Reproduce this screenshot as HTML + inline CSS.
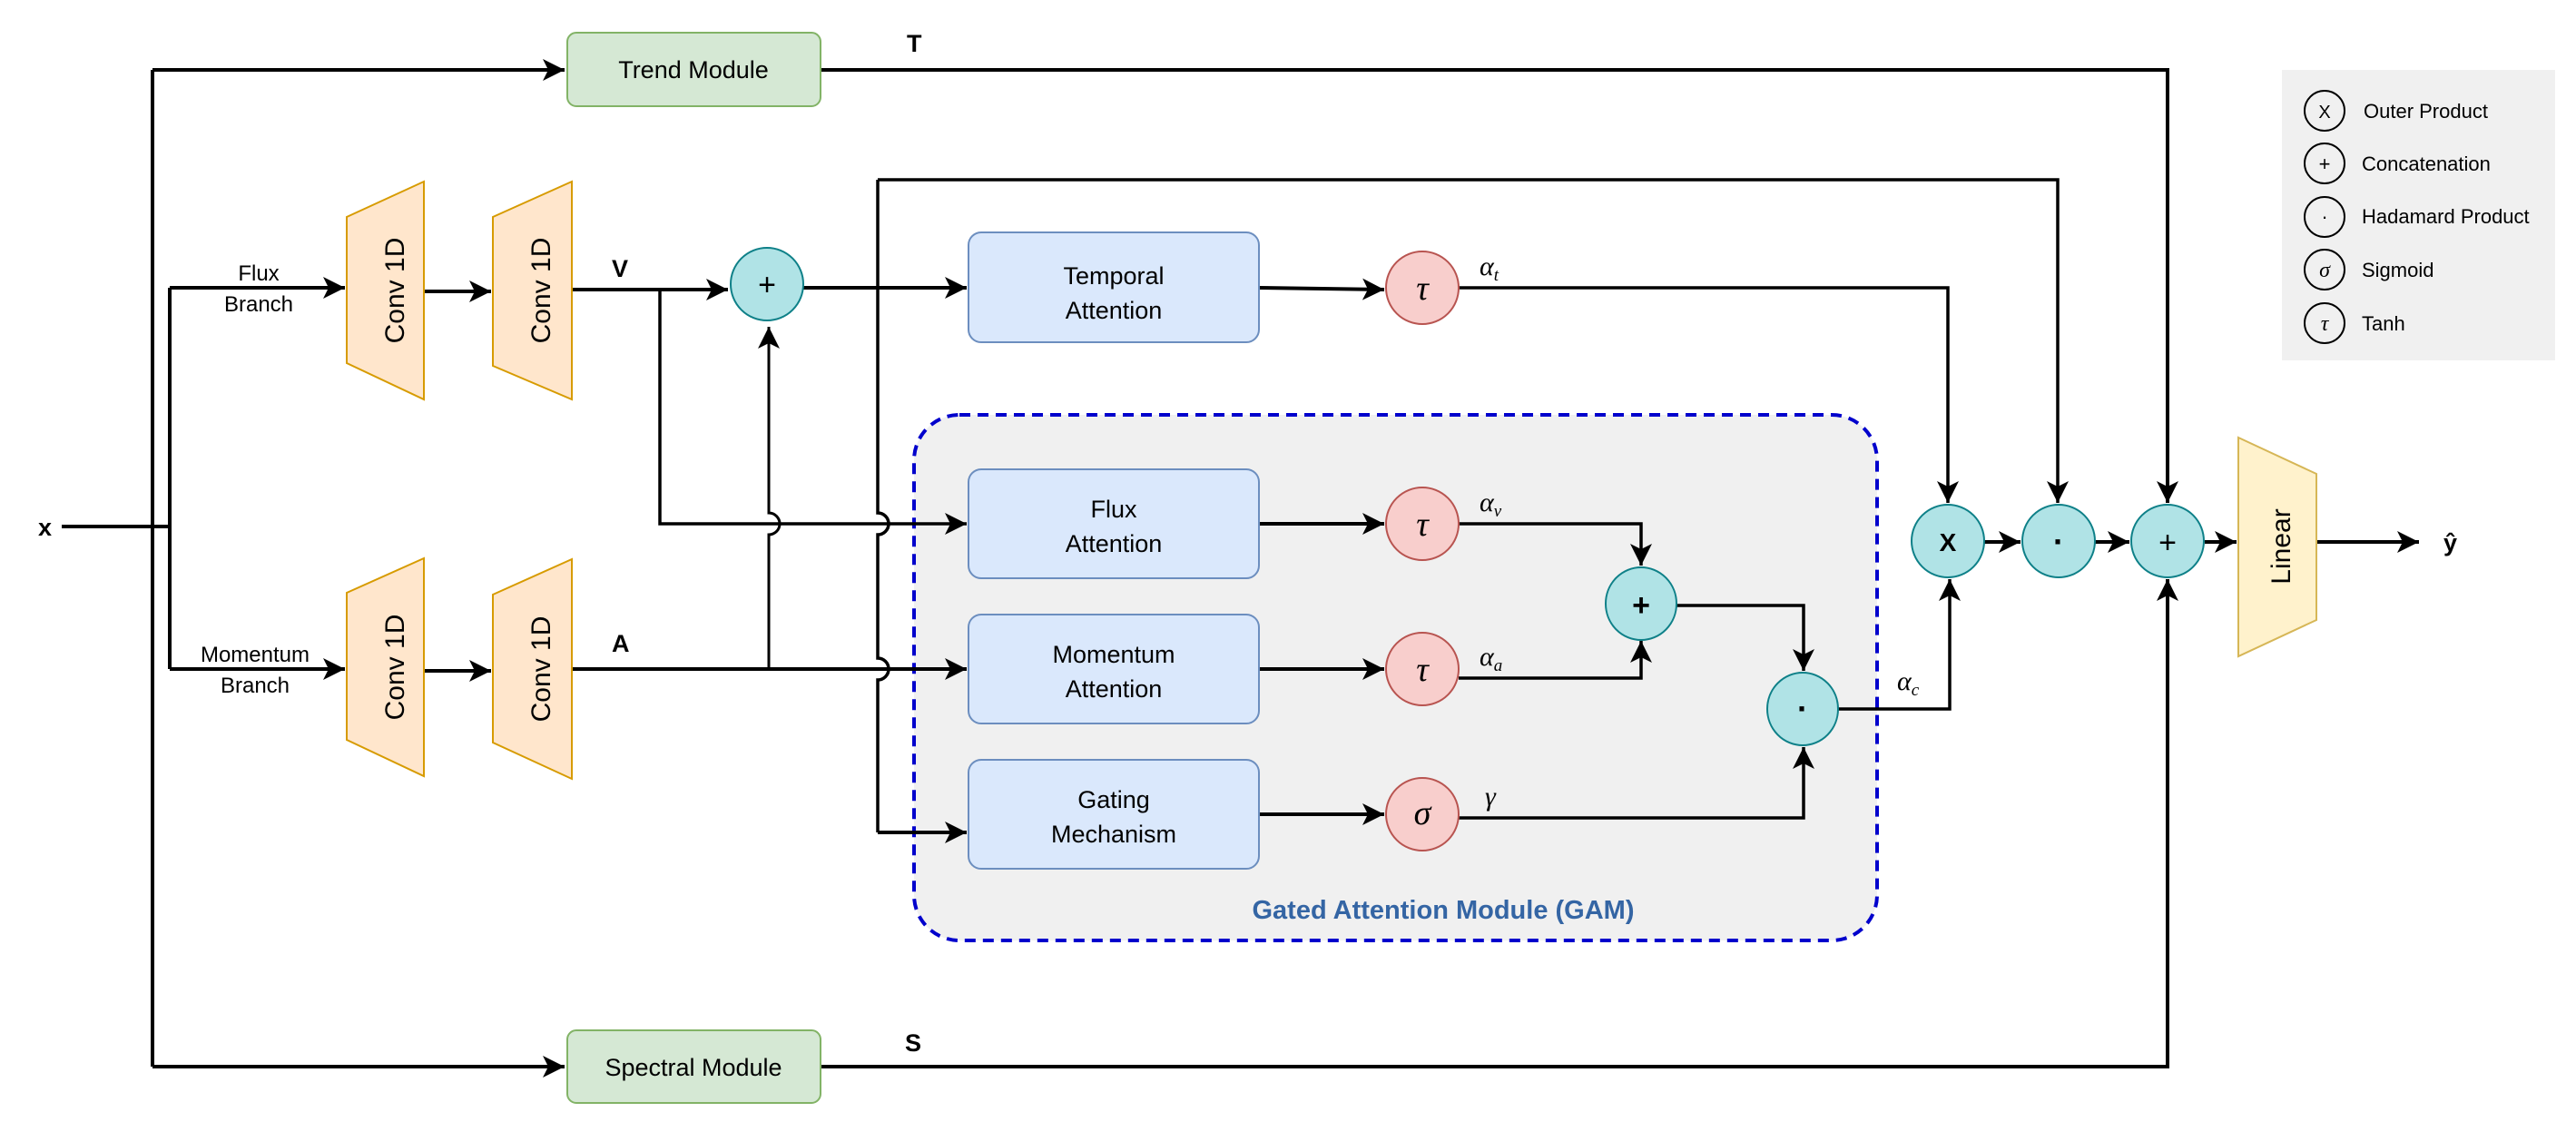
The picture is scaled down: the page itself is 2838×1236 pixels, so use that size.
<!DOCTYPE html>
<html><head><meta charset="utf-8"><style>
html,body{margin:0;padding:0;background:#fff;}
svg{display:block;}
text{font-family:"Liberation Sans",sans-serif;fill:#000;}
.m{font-family:"Liberation Serif",serif;font-style:italic;}
</style></head><body>
<svg width="2838" height="1236" viewBox="0 0 2838 1236" xmlns="http://www.w3.org/2000/svg">
<defs>
<marker id="a" markerUnits="userSpaceOnUse" markerWidth="30" markerHeight="30" refX="24" refY="12" orient="auto">
<path d="M0,0 L24,12 L0,24 L6,12 Z" fill="#000"/>
</marker>
</defs>
<g fill="none" stroke="#000" stroke-width="4">
<rect x="2514" y="77" width="301" height="320" fill="#f0f0f0" stroke="none"/>
<rect x="1007" y="457" width="1061" height="579" rx="50" fill="#f0f0f0" stroke="#0000cc" stroke-width="4" stroke-dasharray="12 8"/>
<path d="M68 580 H187"/>
<path d="M187 317 V737"/>
<path d="M168 77 V1175"/>
<path d="M168 77 H622" marker-end="url(#a)"/>
<path d="M168 1175 H622" marker-end="url(#a)"/>
<path d="M187 317 H380" marker-end="url(#a)"/>
<path d="M187 737 H380" marker-end="url(#a)"/>
<path d="M467 321 H541" marker-end="url(#a)"/>
<path d="M467 739 H541" marker-end="url(#a)"/>
<path d="M630 319 H802" marker-end="url(#a)"/>
<path d="M727 319 V577 H1065" stroke-width="3.5" marker-end="url(#a)"/>
<path d="M885 317 H1065" marker-end="url(#a)"/>
<path d="M630 737 H1065" marker-end="url(#a)"/>
<path d="M847 737 V589 a12 12 0 0 0 0 -24 V360" stroke-width="3" marker-end="url(#a)"/>
<path d="M967 917 V749 a12 12 0 0 0 0 -24 V589 a12 12 0 0 0 0 -24 V198" stroke-width="3.5"/>
<path d="M967 917 H1065" marker-end="url(#a)"/>
<path d="M967 198 H2267 V554" stroke-width="3.5" marker-end="url(#a)"/>
<path d="M904 77 H2388 V554" marker-end="url(#a)"/>
<path d="M904 1175 H2388 V638" marker-end="url(#a)"/>
<path d="M1387 317 L1525 319" marker-end="url(#a)"/>
<path d="M1607 317 H2146 V554" stroke-width="3.5" marker-end="url(#a)"/>
<path d="M1387 577 H1525" marker-end="url(#a)"/>
<path d="M1387 737 H1525" marker-end="url(#a)"/>
<path d="M1387 897 H1525" marker-end="url(#a)"/>
<path d="M1607 577 H1808 V623" stroke-width="3.5" marker-end="url(#a)"/>
<path d="M1607 747 H1808 V706" stroke-width="3.5" marker-end="url(#a)"/>
<path d="M1847 667 H1987 V739" stroke-width="3.5" marker-end="url(#a)"/>
<path d="M1607 901 H1987 V823" stroke-width="3.5" marker-end="url(#a)"/>
<path d="M2025 781 H2148 V638" stroke-width="3.5" marker-end="url(#a)"/>
<path d="M2186 597 H2226" marker-end="url(#a)"/>
<path d="M2308 597 H2346" marker-end="url(#a)"/>
<path d="M2429 597 H2464" marker-end="url(#a)"/>
<path d="M2552 597 H2665" marker-end="url(#a)"/>
</g>
<g stroke-width="2">
<rect x="625" y="36" width="279" height="81" rx="10" fill="#d5e8d4" stroke="#82b366"/>
<rect x="625" y="1135" width="279" height="80" rx="10" fill="#d5e8d4" stroke="#82b366"/>
<rect x="1067" y="256" width="320" height="121" rx="14" fill="#dae8fc" stroke="#6c8ebf"/>
<rect x="1067" y="517" width="320" height="120" rx="14" fill="#dae8fc" stroke="#6c8ebf"/>
<rect x="1067" y="677" width="320" height="120" rx="14" fill="#dae8fc" stroke="#6c8ebf"/>
<rect x="1067" y="837" width="320" height="120" rx="14" fill="#dae8fc" stroke="#6c8ebf"/>
<polygon points="382,239 467,200 467,440 382,400" fill="#ffe6cc" stroke="#d79b00"/>
<polygon points="543,239 630,200 630,440 543,403" fill="#ffe6cc" stroke="#d79b00"/>
<polygon points="382,653 467,615 467,855 382,815" fill="#ffe6cc" stroke="#d79b00"/>
<polygon points="543,655 630,616 630,858 543,818" fill="#ffe6cc" stroke="#d79b00"/>
<polygon points="2466,482 2552,522 2552,683 2466,723" fill="#fff2cc" stroke="#d6b656"/>
<ellipse cx="845" cy="313" rx="40" ry="40" fill="#b0e3e6" stroke="#0e8088"/>
<ellipse cx="1808" cy="665" rx="39" ry="40" fill="#b0e3e6" stroke="#0e8088"/>
<ellipse cx="1986" cy="781" rx="39" ry="40" fill="#b0e3e6" stroke="#0e8088"/>
<ellipse cx="2146" cy="596" rx="40" ry="40" fill="#b0e3e6" stroke="#0e8088"/>
<ellipse cx="2268" cy="596" rx="40" ry="40" fill="#b0e3e6" stroke="#0e8088"/>
<ellipse cx="2388" cy="596" rx="40" ry="40" fill="#b0e3e6" stroke="#0e8088"/>
<ellipse cx="1567" cy="317" rx="40" ry="40" fill="#f8cecc" stroke="#b85450"/>
<ellipse cx="1567" cy="577" rx="40" ry="40" fill="#f8cecc" stroke="#b85450"/>
<ellipse cx="1567" cy="737" rx="40" ry="40" fill="#f8cecc" stroke="#b85450"/>
<ellipse cx="1567" cy="897" rx="40" ry="40" fill="#f8cecc" stroke="#b85450"/>
<g fill="none" stroke="#000" stroke-width="2">
<circle cx="2561" cy="122" r="22"/><circle cx="2561" cy="180" r="22"/><circle cx="2561" cy="239" r="22"/><circle cx="2561" cy="297" r="22"/><circle cx="2561" cy="356" r="22"/>
</g>
</g>
<g font-size="27" text-anchor="middle">
<text x="764" y="86">Trend Module</text>
<text x="764" y="1185">Spectral Module</text>
<text x="1227" y="313">Temporal</text><text x="1227" y="351">Attention</text>
<text x="1227" y="570">Flux</text><text x="1227" y="608">Attention</text>
<text x="1227" y="730">Momentum</text><text x="1227" y="768">Attention</text>
<text x="1227" y="890">Gating</text><text x="1227" y="928">Mechanism</text>
<text font-size="24" x="285" y="309">Flux</text><text font-size="24" x="285" y="343">Branch</text>
<text font-size="24" x="281" y="729">Momentum</text><text font-size="24" x="281" y="763">Branch</text>
<text transform="translate(434,320) rotate(-90)" font-size="30" dy="11">Conv 1D</text>
<text transform="translate(595,320) rotate(-90)" font-size="30" dy="11">Conv 1D</text>
<text transform="translate(434,735) rotate(-90)" font-size="30" dy="11">Conv 1D</text>
<text transform="translate(595,737) rotate(-90)" font-size="30" dy="11">Conv 1D</text>
<text transform="translate(2512,602) rotate(-90)" font-size="30" dy="11">Linear</text>
<text x="1590" y="1012" font-size="29" font-weight="bold" style="fill:#3465a4">Gated Attention Module (GAM)</text>
</g>
<g font-weight="bold" font-size="27">
<text x="999" y="57">T</text>
<text x="997" y="1158">S</text>
<text x="674" y="305">V</text>
<text x="674" y="718">A</text>
<text x="42" y="590">x</text>
<text x="2692" y="607">ŷ</text>
</g>
<g text-anchor="middle">
<text x="845" y="325" font-size="34">+</text>
<text x="1808" y="678" font-size="34" font-weight="bold">+</text>
<text x="1986" y="793" font-size="36" font-weight="bold">·</text>
<text x="2146" y="607" font-size="28" font-weight="bold">X</text>
<text x="2268" y="609" font-size="36" font-weight="bold">·</text>
<text x="2388" y="609" font-size="34">+</text>
<text class="m" x="1567" y="330" font-size="38">τ</text>
<text class="m" x="1567" y="590" font-size="38">τ</text>
<text class="m" x="1567" y="750" font-size="38">τ</text>
<text class="m" x="1567" y="908" font-size="38">σ</text>
<text x="2561" y="130" font-size="20">X</text>
<text x="2561" y="188" font-size="22">+</text>
<text x="2561" y="246" font-size="22">·</text>
<text class="m" x="2561" y="305" font-size="24">σ</text>
<text class="m" x="2561" y="364" font-size="24">τ</text>
</g>
<g font-size="30">
<text class="m" x="1630" y="303">α<tspan font-size="19" dy="6">t</tspan></text>
<text class="m" x="1630" y="563">α<tspan font-size="19" dy="6">v</tspan></text>
<text class="m" x="1630" y="733">α<tspan font-size="19" dy="6">a</tspan></text>
<text class="m" x="1636" y="887">γ</text>
<text class="m" x="2090" y="760">α<tspan font-size="19" dy="6">c</tspan></text>
</g>
<g font-size="22">
<text x="2604" y="130">Outer Product</text>
<text x="2602" y="188">Concatenation</text>
<text x="2602" y="246">Hadamard Product</text>
<text x="2602" y="305">Sigmoid</text>
<text x="2602" y="364">Tanh</text>
</g>
</svg>
</body></html>
